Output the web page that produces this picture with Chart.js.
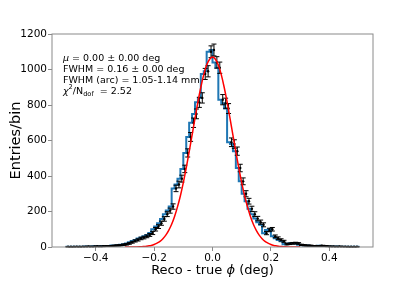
<!DOCTYPE html>
<html>
<head>
<meta charset="utf-8">
<script src="https://cdn.jsdelivr.net/npm/chart.js@4.4.0/dist/chart.umd.min.js"></script>
<style>
  html, body { margin: 0; padding: 0; background: #fff; }
  #wrap { width: 415px; height: 283px; position: relative; }
</style>
</head>
<body>
<div id="wrap"><canvas id="chart"></canvas></div>
<script>
// histogram: 100 bins over [-0.5, 0.5]
const histRange = [-0.5, 0.5];
const counts = [
  1, 1, 1, 2, 1, 2, 2, 3, 2, 3,
  4, 3, 4, 5, 5, 6, 8, 9, 10, 13,
  15, 20, 27, 34, 40, 48, 53, 60, 68, 79,
  100, 115, 134, 158, 185, 205, 228, 330, 352, 385,
  440, 530, 620, 700, 750, 815, 840, 975, 990, 1100,
  1110, 1040, 1010, 830, 810, 780, 590, 580, 540, 445,
  370, 300, 258, 215, 185, 160, 140, 125, 78, 96,
  100, 60, 50, 40, 32, 16, 18, 21, 22, 20,
  12, 10, 8, 8, 6, 6, 5, 7, 6, 4,
  3, 3, 2, 3, 2, 2, 1, 1, 1, 1,
];
const errors = [
  1, 1, 1, 1.4, 1, 1.4, 1.4, 1.7, 1.4, 1.7,
  2, 1.7, 2, 2.2, 2.2, 2.4, 2.8, 3, 3.2, 3.6,
  3.9, 4.5, 5.2, 5.8, 6.3, 6.9, 7.3, 7.7, 8.2, 8.9,
  10, 10.7, 11.6, 12.6, 13.6, 14.3, 15.1, 18.2, 18.8, 19.6,
  21, 23, 24.9, 26.5, 27.4, 28.5, 29, 31.2, 31.5, 33.2,
  33.3, 32.2, 31.8, 28.8, 28.5, 27.9, 24.3, 24.1, 23.2, 21.1,
  19.2, 17.3, 16.1, 14.7, 13.6, 12.6, 11.8, 11.2, 8.8, 9.8,
  10, 7.7, 7.1, 6.3, 5.7, 4, 4.2, 4.6, 4.7, 4.5,
  3.5, 3.2, 2.8, 2.8, 2.4, 2.4, 2.2, 2.6, 2.4, 2,
  1.7, 1.7, 1.4, 1.7, 1.4, 1.4, 1, 1, 1, 1,
];

// gaussian fit curve
const fitX = [
  -0.30, -0.29, -0.28, -0.27, -0.26, -0.25, -0.24, -0.23, -0.22, -0.21,
  -0.20, -0.19, -0.18, -0.17, -0.16, -0.15, -0.14, -0.13, -0.12, -0.11,
  -0.10, -0.09, -0.08, -0.07, -0.06, -0.05, -0.04, -0.03, -0.02, -0.01,
  0.00, 0.01, 0.02, 0.03, 0.04, 0.05, 0.06, 0.07, 0.08, 0.09,
  0.10, 0.11, 0.12, 0.13, 0.14, 0.15, 0.16, 0.17, 0.18, 0.19,
  0.20, 0.21, 0.22, 0.23, 0.24, 0.25, 0.26, 0.27, 0.28, 0.29, 0.30,
];
const fitY = [
  0.1, 0.1, 0.2, 0.4, 0.6, 1.2, 2.1, 3.5, 6, 9,
  14, 22, 32, 47, 67, 94, 128, 172, 226, 289,
  363, 446, 536, 630, 725, 817, 900, 971, 1025, 1058,
  1070, 1058, 1025, 971, 900, 817, 725, 630, 536, 446,
  363, 289, 226, 172, 128, 94, 67, 47, 32, 22,
  14, 9, 6, 3.5, 2.1, 1.2, 0.6, 0.4, 0.2, 0.1, 0.1,
];

const xTicks = [-0.4, -0.2, 0.0, 0.2, 0.4];
const yTicks = [0, 200, 400, 600, 800, 1000, 1200];
const xLimits = [-0.55, 0.55];
const yLimits = [0, 1200];

const fitLines = [
  [{ t: 'μ', it: true }, { t: ' = 0.00 ± 0.00 deg' }],
  [{ t: 'FWHM = 0.16 ± 0.00 deg' }],
  [{ t: 'FWHM (arc) = 1.05-1.14 mm' }],
  [{ t: 'χ', it: true }, { t: '2', sup: true }, { t: '/N' }, { t: 'dof', sub: true }, { t: '  = 2.52' }],
];

const FONT = "'DejaVu Sans', sans-serif";
const FRAME = '#8a8a8a';

const nBins = counts.length;
const binW = (histRange[1] - histRange[0]) / nBins;
const edges = counts.map((_, i) => histRange[0] + i * binW);
const centers = edges.map((e) => e + binW / 2);

const stepData = [{ x: histRange[0], y: 0 }];
counts.forEach((c, i) => stepData.push({ x: edges[i], y: c }));
stepData.push({ x: histRange[1], y: counts[nBins - 1] });
stepData.push({ x: histRange[1], y: 0 });

const pointData = centers.map((x, i) => ({ x, y: counts[i] }));
const fitData = fitX.map((x, i) => ({ x, y: fitY[i] }));

function drawRuns(ctx, runs, x, y, size) {
  let cx = x;
  runs.forEach((r) => {
    const s = r.sup || r.sub ? size * 0.7 : size;
    ctx.font = `${r.it ? 'italic ' : ''}${s}px ${FONT}`;
    const dy = r.sup ? -size * 0.45 : r.sub ? size * 0.22 : 0;
    ctx.fillText(r.t, cx, y + dy);
    cx += ctx.measureText(r.t).width;
  });
  return cx - x;
}

const errorBars = {
  id: 'errorBars',
  beforeDatasetDraw(chart, args) {
    if (args.index !== 1) return;
    const { ctx, scales } = chart;
    ctx.save();
    ctx.strokeStyle = '#000';
    ctx.lineWidth = 1;
    centers.forEach((c, i) => {
      const px = scales.x.getPixelForValue(c);
      const top = scales.y.getPixelForValue(counts[i] + errors[i]);
      const bot = scales.y.getPixelForValue(counts[i] - errors[i]);
      ctx.beginPath();
      ctx.moveTo(px, top);
      ctx.lineTo(px, bot);
      ctx.moveTo(px - 2.5, top);
      ctx.lineTo(px + 2.5, top);
      ctx.moveTo(px - 2.5, bot);
      ctx.lineTo(px + 2.5, bot);
      ctx.stroke();
    });
    ctx.restore();
  },
};

const decorations = {
  id: 'decorations',
  afterDraw(chart) {
    const { ctx, chartArea: a } = chart;
    ctx.save();
    ctx.strokeStyle = FRAME;
    ctx.lineWidth = 1;
    ctx.strokeRect(a.left, a.top, a.right - a.left, a.bottom - a.top);

    ctx.fillStyle = '#000';
    ctx.textBaseline = 'alphabetic';
    ctx.textAlign = 'left';
    fitLines.forEach((runs, i) => {
      drawRuns(ctx, runs, a.left + 11, a.top + 26.5 + i * 11, 9.5);
    });

    // x axis title
    const xRuns = [{ t: 'Reco - true ' }, { t: 'ϕ', it: true }, { t: ' (deg)' }];
    let w = 0;
    xRuns.forEach((r) => {
      ctx.font = `${r.it ? 'italic ' : ''}13px ${FONT}`;
      w += ctx.measureText(r.t).width;
    });
    drawRuns(ctx, xRuns, (a.left + a.right) / 2 - w / 2, 274, 13);

    // y axis title
    ctx.translate(20, (a.top + a.bottom) / 2);
    ctx.rotate(-Math.PI / 2);
    ctx.textAlign = 'center';
    ctx.font = `14.5px ${FONT}`;
    ctx.fillText('Entries/bin', 0, 0);
    ctx.restore();
  },
};

new Chart(document.getElementById('chart'), {
  type: 'scatter',
  data: {
    datasets: [
      {
        data: stepData,
        showLine: true,
        stepped: 'after',
        borderColor: '#1f77b4',
        borderWidth: 2,
        pointRadius: 0,
        order: 3,
      },
      {
        data: pointData,
        showLine: false,
        pointRadius: 1.2,
        pointBackgroundColor: '#000',
        pointBorderWidth: 0,
        order: 2,
      },
      {
        data: fitData,
        showLine: true,
        borderColor: '#ff0000',
        borderWidth: 1.5,
        cubicInterpolationMode: 'monotone',
        pointRadius: 0,
        order: 1,
      },
    ],
  },
  options: {
    responsive: true,
    maintainAspectRatio: false,
    animation: false,
    events: [],
    layout: { padding: { top: 34, right: 42, left: 0, bottom: 0 } },
    plugins: { legend: { display: false }, tooltip: { enabled: false } },
    scales: {
      x: {
        type: 'linear',
        min: xLimits[0],
        max: xLimits[1],
        afterBuildTicks: (s) => { s.ticks = xTicks.map((v) => ({ value: v })); },
        afterFit: (s) => { s.height = 36; },
        ticks: {
          color: '#000',
          padding: 1,
          maxRotation: 0,
          font: { family: FONT, size: 10.5 },
          callback: (v) => Number(v).toFixed(1).replace('-', '\u2212'),
        },
        grid: { drawOnChartArea: false, tickLength: 4, color: FRAME },
        border: { display: false },
      },
      y: {
        min: yLimits[0],
        max: yLimits[1],
        afterBuildTicks: (s) => { s.ticks = yTicks.map((v) => ({ value: v })); },
        afterFit: (s) => { s.width = 52; },
        ticks: {
          color: '#000',
          padding: 1,
          font: { family: FONT, size: 10.5 },
          callback: (v) => String(v),
        },
        grid: { drawOnChartArea: false, tickLength: 4, color: FRAME },
        border: { display: false },
      },
    },
  },
  plugins: [errorBars, decorations],
});
</script>
</body>
</html>
